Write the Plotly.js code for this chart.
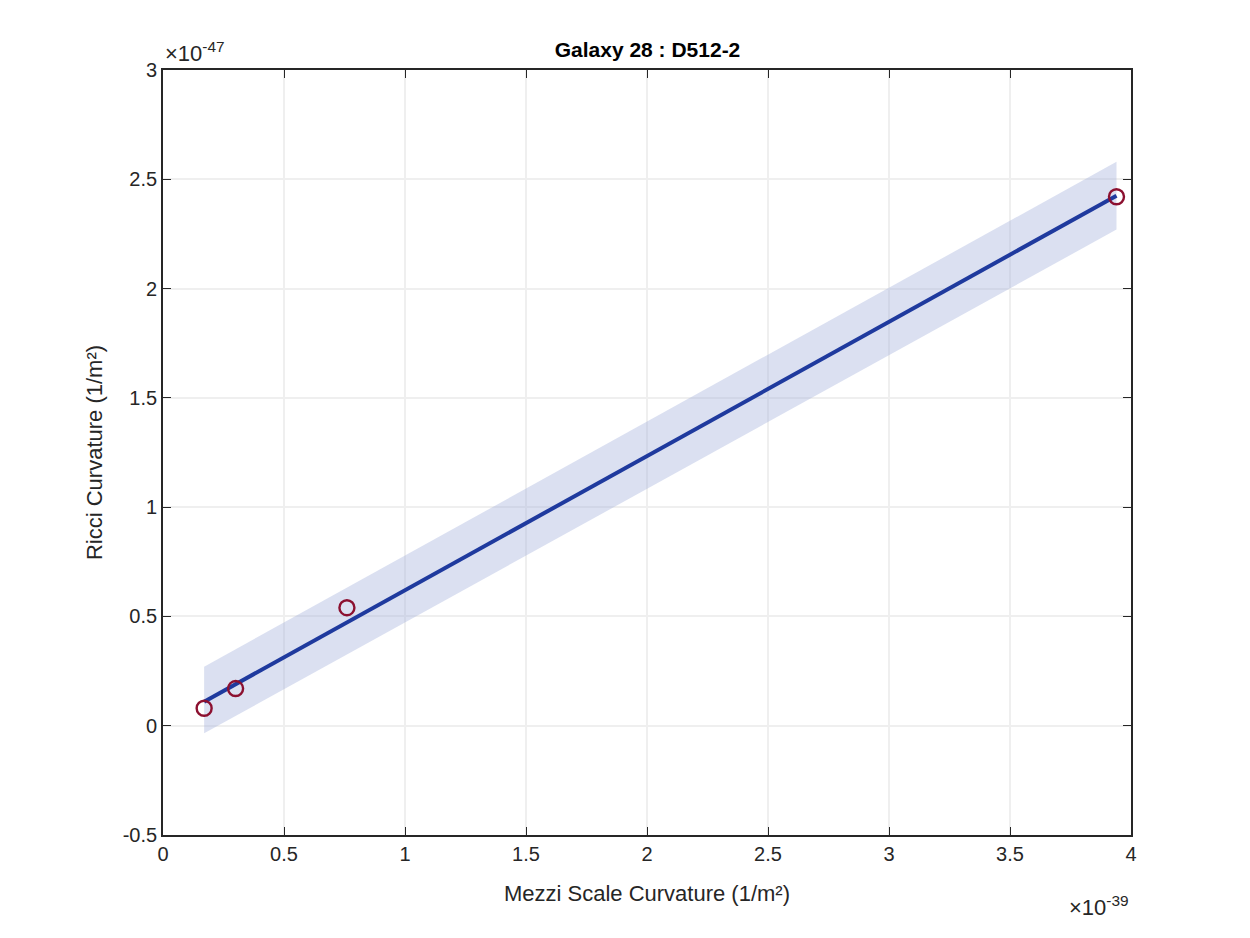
<!DOCTYPE html>
<html>
<head>
<meta charset="utf-8">
<script src="https://cdn.plot.ly/plotly-3.0.1.min.js"></script>
<style>body{margin:0;background:#fff}</style>
</head>
<body>
<div id="myDiv" style="width:1250px;height:938px"></div>
<script>
// data (x in 1e-39, y in 1e-47)
const pointsX = [0.17, 0.30, 0.76, 3.94];
const pointsY = [0.08, 0.17, 0.54, 2.42];
const fitX = [0.17, 3.94];
const fitY = [0.11, 2.425];
const bandUpper = [0.27, 2.58];
const bandLower = [-0.035, 2.27];
const xTicks = [0, 0.5, 1, 1.5, 2, 2.5, 3, 3.5, 4];
const yTicks = [-0.5, 0, 0.5, 1, 1.5, 2, 2.5, 3];

var band = {
  x: fitX.concat(fitX.slice().reverse()),
  y: bandUpper.concat(bandLower.slice().reverse()),
  fill: 'toself', fillcolor: 'rgba(165,178,220,0.4)',
  line: {width: 0}, mode: 'lines', hoverinfo: 'skip', type: 'scatter'
};
var fit = {x: fitX, y: fitY, mode: 'lines', line: {color: '#1f3a9e', width: 4}, type: 'scatter'};
var pts = {
  x: pointsX, y: pointsY, mode: 'markers', type: 'scatter',
  marker: {symbol: 'circle-open', size: 15, color: '#8c1030', line: {width: 2.4}}
};

var axisCommon = {
  showline: true, mirror: 'ticks', linecolor: '#262626', linewidth: 1.8,
  ticks: 'inside', ticklen: 8, tickcolor: '#262626',
  gridcolor: '#efefef', gridwidth: 1.5, zeroline: false,
  tickfont: {family: 'Liberation Sans, Arial', size: 20, color: '#262626'}
};

var layout = {
  width: 1250, height: 938, showlegend: false,
  paper_bgcolor: '#fff', plot_bgcolor: '#fff',
  margin: {l: 163, r: 119, t: 70, b: 103},
  title: {text: '<b>Galaxy 28 : D512-2</b>', x: 0.518, y: 0.955, xanchor: 'center',
    font: {family: 'Liberation Sans, Arial', size: 21, color: '#000'}},
  xaxis: Object.assign({}, axisCommon, {range: [0, 4], tickvals: xTicks, ticktext: xTicks.map(String),
    title: {text: 'Mezzi Scale Curvature (1/m²)', standoff: 22,
      font: {family: 'Liberation Sans, Arial', size: 22, color: '#262626'}}}),
  yaxis: Object.assign({}, axisCommon, {range: [-0.5, 3], tickvals: yTicks, ticktext: yTicks.map(String),
    title: {text: 'Ricci Curvature (1/m²)', standoff: 14,
      font: {family: 'Liberation Sans, Arial', size: 22, color: '#262626'}}}),
  annotations: [
    {xref: 'paper', yref: 'paper', x: 0, y: 1, xanchor: 'left', yanchor: 'bottom', yshift: 2,
      showarrow: false, text: '×10<sup>-47</sup>', font: {family: 'Liberation Sans, Arial', size: 22, color: '#262626'}},
    {xref: 'paper', yref: 'paper', x: 1, y: 0, xanchor: 'right', yanchor: 'top', yshift: -55,
      showarrow: false, text: '×10<sup>-39</sup>', font: {family: 'Liberation Sans, Arial', size: 22, color: '#262626'}}
  ]
};

Plotly.newPlot('myDiv', [band, fit, pts], layout, {displayModeBar: false});
</script>
</body>
</html>
